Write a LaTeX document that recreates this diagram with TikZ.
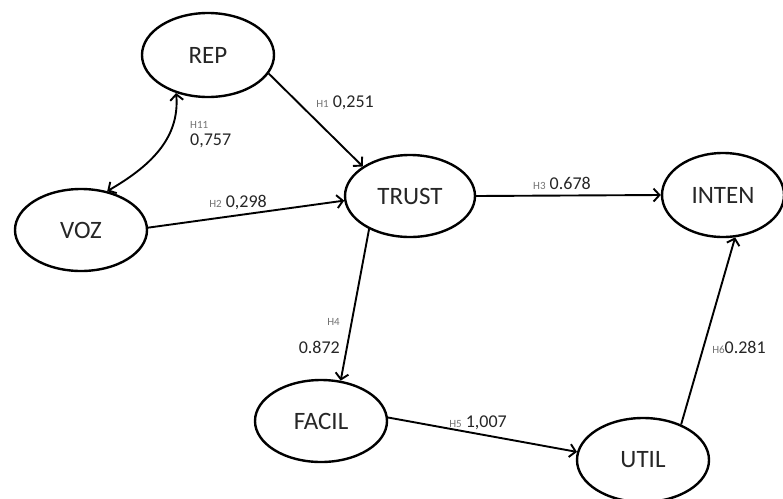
\documentclass[tikz,border=0pt]{standalone}
\usepackage{fontspec}
\setmainfont{Carlito}
\usetikzlibrary{shapes.geometric,arrows.meta}
% small grey hypothesis tag in front of a coefficient
\newcommand{\hlab}[1]{{\fontsize{11}{11}\selectfont\color{black!55}#1}}
\begin{document}
\begin{tikzpicture}[x=1pt,y=-1pt,
  construct/.style={ellipse, draw, line width=2.4pt, minimum width=132pt,
    minimum height=84pt, inner sep=0pt,
    font=\fontsize{25}{25}\selectfont, text=black!85},
  barb/.tip={Straight Barb[length=6pt,width=13pt]},
  link/.style={line width=1.9pt, -barb},
  coef/.style={font=\fontsize{18}{18}\selectfont, text=black!85, inner sep=0pt}]
\fill[white] (0,0) rectangle (783,498);
\useasboundingbox (0,0) rectangle (783,498);

% constructs
\node[construct] (REP) at (208,55) {REP};
\node[construct, minimum height=82pt] (VOZ) at (81,230) {VOZ};
\node[construct, minimum width=130pt, minimum height=82pt] (TRUST) at (410,196) {TRUST};
\node[construct, minimum width=122pt] (INTEN) at (723,195) {INTEN};
\node[construct, minimum height=82pt] (FACIL) at (321,421) {FACIL};
\node[construct] (UTIL) at (643,460) {UTIL};

% structural paths
\draw[link] (REP.-17) -- (TRUST.148);
\draw[line width=1.9pt, barb-barb] (VOZ.56) to[out=30,in=-85] (REP.-130);
\draw[link] (VOZ.2) -- (TRUST.-176);
\draw[link] (TRUST.east) -- (INTEN.west);
\draw[link] (TRUST.-141) -- (FACIL.64);
\draw[link] (FACIL.3) -- (UTIL.173);
\draw[link] (UTIL.43) -- (INTEN.-74);

% path coefficients
\node[coef] (c1) at (345,103) {\hlab{H1}\ 0,251};
\node[coef, anchor=west] (h11) at (190,125) {\hlab{H11}};
\node[coef, anchor=west] (c11) at (190,141) {0,757};
\node[coef] (c2) at (238,202) {\hlab{H2} 0,298};
\node[coef] (c3) at (562,183) {\hlab{H3} 0.678};
\node[coef, anchor=east] (h4) at (340,322) {\hlab{H4}};
\node[coef, anchor=east] (c4) at (340,347) {0.872};
\node[coef] (c5) at (478,423) {\hlab{H5}\ 1,007};
\node[coef] (c6) at (739,347) {\hlab{H6}0.281};
\end{tikzpicture}
\end{document}
